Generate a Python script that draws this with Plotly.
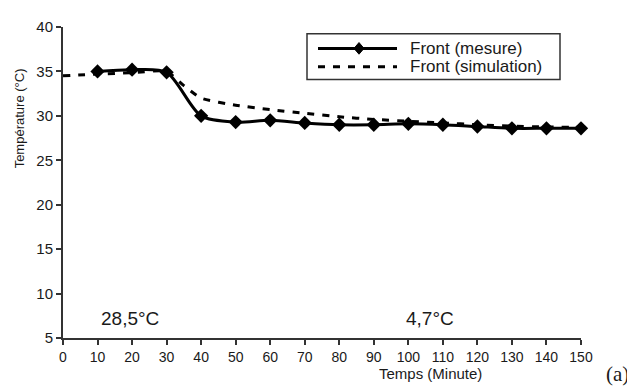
import plotly.graph_objects as go

# Data
time_mes = [10, 20, 30, 40, 50, 60, 70, 80, 90, 100, 110, 120, 130, 140, 150]
temp_mes = [35.0, 35.2, 34.9, 30.0, 29.3, 29.5, 29.2, 29.0, 29.0, 29.1, 29.0, 28.8, 28.6, 28.6, 28.6]

time_sim = [0, 10, 20, 30, 35, 40, 50, 60, 70, 80, 90, 100, 110, 120, 130, 140, 150]
temp_sim = [34.5, 34.7, 34.85, 35.0, 33.4, 32.0, 31.2, 30.7, 30.3, 29.9, 29.6, 29.4, 29.2, 29.0, 28.85, 28.75, 28.7]

x_ticks = list(range(0, 151, 10))
y_ticks = list(range(5, 41, 5))

name_mes = "Front (mesure)"
name_sim = "Front (simulation)"
x_title = "Temps (Minute)"
y_title = "Température (°C)"
note_left = "28,5°C"
note_right = "4,7°C"
panel_label = "(a)"

FONT = "Liberation Sans, Arial, sans-serif"
INK = "#1a1a1a"
DASH = "7px,8px"

fig = go.Figure()
fig.add_trace(go.Scatter(
    x=time_mes, y=temp_mes, name=name_mes, mode="lines+markers",
    line=dict(color="black", width=3, shape="spline", smoothing=0.8),
    marker=dict(symbol="diamond", size=11, color="black"),
    cliponaxis=False, showlegend=False,
))
fig.add_trace(go.Scatter(
    x=time_sim, y=temp_sim, name=name_sim, mode="lines",
    line=dict(color="black", width=3, dash=DASH, shape="spline", smoothing=0.6),
    cliponaxis=False, showlegend=False,
))

# page body has an 8px margin; work in screen pixels and offset
OFF = 8
W, H = 635 - OFF, 392 - OFF
L = 63 - OFF
T = 18 - OFF
R = W - (581 - OFF)
B = H - (338 - OFF)
pw, ph = W - L - R, H - T - B

def px_x(p):
    return (p - OFF - L) / pw

def px_y(p):
    return (H - B - (p - OFF)) / ph

def note(text, sx, sy, size, family=FONT, angle=0, anchor="center"):
    return dict(text=text, x=px_x(sx), y=px_y(sy), xref="paper", yref="paper",
                xanchor=anchor, yanchor="middle", showarrow=False, textangle=angle,
                font=dict(family=family, size=size, color=INK))

# legend drawn by hand (box, samples, labels) in screen pixels
LEG_BOX = (307, 25, 560, 72)
ROW1, ROW2 = 40, 59
SAMPLE_X0, SAMPLE_X1, TEXT_X = 318, 397, 408
DIA_X, DIA_HW, DIA_HH = 359, 5, 6

shapes = [
    dict(type="rect", xref="paper", yref="paper",
         x0=px_x(LEG_BOX[0]), x1=px_x(LEG_BOX[2]), y0=px_y(LEG_BOX[1]), y1=px_y(LEG_BOX[3]),
         line=dict(color="#333", width=1.5), fillcolor="white", layer="above"),
    dict(type="line", xref="paper", yref="paper",
         x0=px_x(SAMPLE_X0), x1=px_x(SAMPLE_X1), y0=px_y(ROW1), y1=px_y(ROW1),
         line=dict(color="black", width=3), layer="above"),
    dict(type="line", xref="paper", yref="paper",
         x0=px_x(SAMPLE_X0), x1=px_x(SAMPLE_X1), y0=px_y(ROW2), y1=px_y(ROW2),
         line=dict(color="black", width=3, dash=DASH), layer="above"),
    dict(type="path", xref="paper", yref="paper",
         path="M{},{} L{},{} L{},{} L{},{} Z".format(
             px_x(DIA_X), px_y(ROW1 - DIA_HH),
             px_x(DIA_X + DIA_HW), px_y(ROW1),
             px_x(DIA_X), px_y(ROW1 + DIA_HH),
             px_x(DIA_X - DIA_HW), px_y(ROW1)),
         fillcolor="black", line=dict(color="black", width=1), layer="above"),
]

fig.update_layout(
    width=W, height=H,
    margin=dict(l=L, r=R, t=T, b=B),
    paper_bgcolor="white", plot_bgcolor="white",
    font=dict(family=FONT, color=INK, size=15),
    showlegend=False,
    shapes=shapes,
    xaxis=dict(
        range=[0, 150], tickmode="array", tickvals=x_ticks,
        showgrid=False, zeroline=False, showline=True, linecolor="#333", linewidth=2,
        ticks="outside", ticklen=5, tickwidth=1.5, tickcolor="#333",
        tickfont=dict(family=FONT, size=14, color=INK),
    ),
    yaxis=dict(
        range=[5, 40], tickmode="array", tickvals=y_ticks,
        showgrid=False, zeroline=False, showline=True, linecolor="#333", linewidth=2,
        ticks="outside", ticklen=5, tickwidth=1.5, tickcolor="#333",
        tickfont=dict(family=FONT, size=15, color=INK),
    ),
    annotations=[
        note(name_mes, TEXT_X, ROW1, 17, anchor="left"),
        note(name_sim, TEXT_X, ROW2, 17, anchor="left"),
        note(note_left, 130, 318, 19),
        note(note_right, 430, 318, 19),
        note(x_title, 430, 375, 15),
        note(y_title, 19, 112, 13, angle=-90),
        note(panel_label, 617, 375, 21, family="Liberation Serif, Times New Roman, serif"),
    ],
)

fig.write_html("out.html")
